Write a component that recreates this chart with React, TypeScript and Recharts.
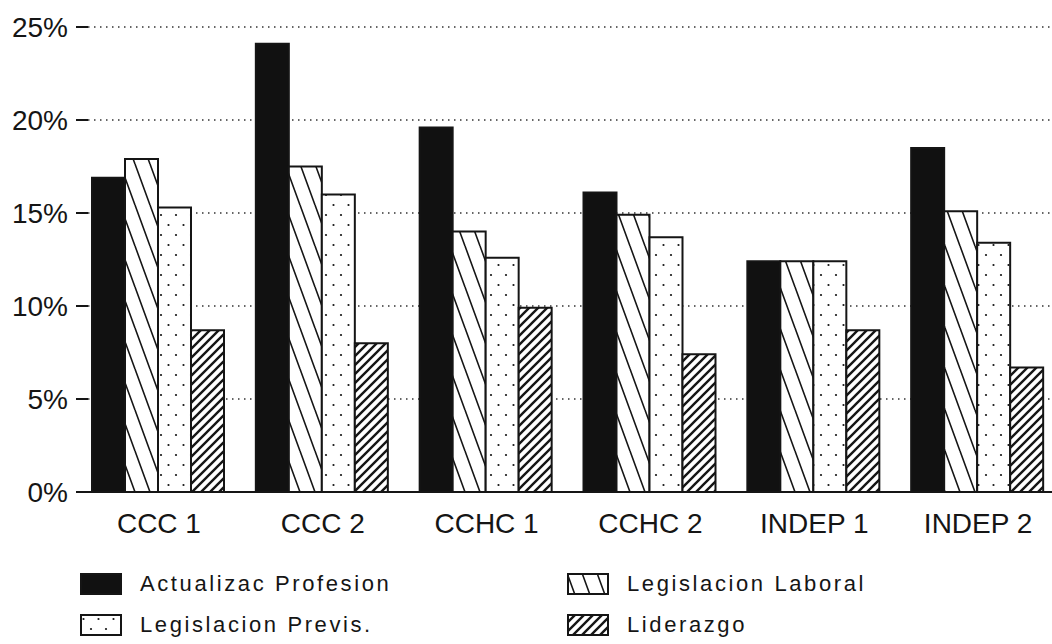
import React from "react"
import { BarChart, Bar, XAxis, YAxis, CartesianGrid, Legend } from "recharts"

const categories = ["CCC 1", "CCC 2", "CCHC 1", "CCHC 2", "INDEP 1", "INDEP 2"]
const actualizacion = [16.9, 24.1, 19.6, 16.1, 12.4, 18.5]
const laboral = [17.9, 17.5, 14.0, 14.9, 12.4, 15.1]
const previsional = [15.3, 16.0, 12.6, 13.7, 12.4, 13.4]
const liderazgo = [8.7, 8.0, 9.9, 7.4, 8.7, 6.7]
const yTicks = [0, 5, 10, 15, 20, 25]

const SERIES = [
  { key: "actualizacion", name: "Actualizac Profesion", fill: "#111" },
  { key: "laboral", name: "Legislacion Laboral", fill: "url(#pat-laboral)" },
  { key: "previsional", name: "Legislacion Previs.", fill: "url(#pat-dots)" },
  { key: "liderazgo", name: "Liderazgo", fill: "url(#pat-lider)" },
]

// legend reads column by column in the original
const LEGEND_ORDER = ["actualizacion", "laboral", "previsional", "liderazgo"]

const chartData = categories.map((name, i) => ({
  name,
  actualizacion: actualizacion[i],
  laboral: laboral[i],
  previsional: previsional[i],
  liderazgo: liderazgo[i],
}))

const FONT = "'Liberation Sans', Arial, sans-serif"
const INK = "#151515"

function PatternDefs() {
  return (
    <defs>
      <pattern id="pat-laboral" patternUnits="userSpaceOnUse" width={15} height={41}>
        <rect width={15} height={41} fill="#fff" />
        <path d="M0,0 L15,41 M-15,0 L0,41 M15,0 L30,41" stroke={INK} strokeWidth={1.6} />
      </pattern>
      <pattern id="pat-dots" patternUnits="userSpaceOnUse" width={15} height={20}>
        <rect width={15} height={20} fill="#fff" />
        <circle cx={3.5} cy={5} r={1.1} fill={INK} />
        <circle cx={11} cy={15} r={1.1} fill={INK} />
      </pattern>
      <pattern id="pat-lider" patternUnits="userSpaceOnUse" width={9} height={9}>
        <rect width={9} height={9} fill="#fff" />
        <path d="M0,9 L9,0 M-2,2 L2,-2 M7,11 L11,7" stroke={INK} strokeWidth={2.4} />
      </pattern>
    </defs>
  )
}

function ChartLegend() {
  const items = LEGEND_ORDER.map((k) => SERIES.find((s) => s.key === k)!)
  return (
    <div
      style={{
        display: "grid",
        gridTemplateColumns: "487px auto",
        rowGap: 19,
        fontFamily: FONT,
        fontSize: 22,
        letterSpacing: 2.6,
        color: INK,
      }}
    >
      {items.map((s) => (
        <div key={s.key} style={{ display: "flex", alignItems: "center", height: 22 }}>
          <svg width={42} height={22} style={{ marginRight: 18 }}>
            <rect x={1} y={1} width={40} height={20} fill={s.fill} stroke={INK} strokeWidth={2} />
          </svg>
          <span>{s.name}</span>
        </div>
      ))}
    </div>
  )
}

export default function App() {
  return (
    <div
      style={{
        position: "absolute",
        left: 0,
        top: 0,
        width: 1052,
        height: 644,
        overflow: "hidden",
        background: "#fff",
      }}
    >
      <BarChart
        width={1052}
        height={644}
        data={chartData}
        margin={{ top: 27, right: 0, left: 0, bottom: 0 }}
        barGap={0}
        barCategoryGap={15}
        style={{ fontFamily: FONT }}
      >
        <PatternDefs />
        <CartesianGrid
          vertical={false}
          stroke="#333"
          strokeWidth={1.5}
          strokeDasharray="1.5 4.5"
        />
        <XAxis
          dataKey="name"
          height={152}
          padding={{ left: -11, right: -8 }}
          axisLine={{ stroke: INK, strokeWidth: 2 }}
          tickLine={false}
          tickSize={0}
          tickMargin={21}
          tick={{ fill: INK, fontSize: 28 }}
        />
        <YAxis
          width={88}
          domain={[0, 25]}
          ticks={yTicks}
          interval={0}
          axisLine={false}
          tickLine={{ stroke: INK, strokeWidth: 2 }}
          tickSize={12}
          tickMargin={8}
          tickFormatter={(v) => `${v}%`}
          tick={{ fill: INK, fontSize: 28 }}
        />
        {SERIES.map((s) => (
          <Bar
            key={s.key}
            dataKey={s.key}
            name={s.name}
            fill={s.fill}
            stroke={INK}
            strokeWidth={2}
            isAnimationActive={false}
          />
        ))}
        <Legend
          layout="vertical"
          align="center"
          verticalAlign="middle"
          wrapperStyle={{ top: 573, left: 80, width: 900 }}
          content={() => <ChartLegend />}
        />
      </BarChart>
    </div>
  )
}
